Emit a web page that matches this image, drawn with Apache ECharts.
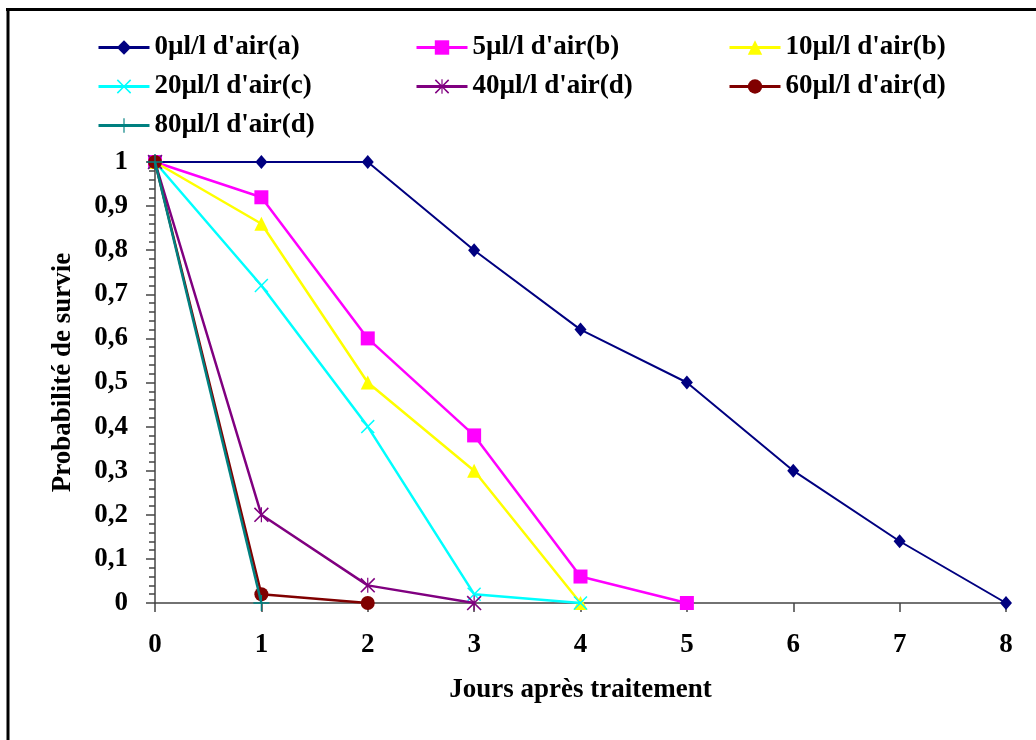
<!DOCTYPE html>
<html>
<head>
<meta charset="utf-8">
<script src="https://cdn.jsdelivr.net/npm/echarts@6/dist/echarts.min.js"></script>
<style>
html,body{margin:0;padding:0;background:#fff;}
#c{width:1036px;height:740px;}
</style>
</head>
<body>
<div id="c"></div>
<script>
// Data
const seriesNames = ["0µl/l d'air(a)", "5µl/l d'air(b)", "10µl/l d'air(b)", "20µl/l d'air(c)", "40µl/l d'air(d)", "60µl/l d'air(d)", "80µl/l d'air(d)"];
const days = [0, 1, 2, 3, 4, 5, 6, 7, 8];
const s0 = [1, 1, 1, 0.8, 0.62, 0.5, 0.3, 0.14, 0];
const s5 = [1, 0.92, 0.6, 0.38, 0.06, 0];
const s10 = [1, 0.86, 0.5, 0.3, 0];
const s20 = [1, 0.72, 0.4, 0.02, 0];
const s40 = [1, 0.2, 0.04, 0];
const s60 = [1, 0.02, 0];
const s80 = [1, 0];
const yTicks = [0, 0.1, 0.2, 0.3, 0.4, 0.5, 0.6, 0.7, 0.8, 0.9, 1];

const colors = ['#000080', '#FF00FF', '#FFFF00', '#00FFFF', '#800080', '#800000', '#008080'];
const X_PATH = 'path://M0,1.5 L1.5,0 L10,8.5 L18.5,0 L20,1.5 L11.5,10 L20,18.5 L18.5,20 L10,11.5 L1.5,20 L0,18.5 L8.5,10 Z';
const STAR_PATH = 'path://M0,1.5 L1.5,0 L10,8.5 L18.5,0 L20,1.5 L11.5,10 L20,18.5 L18.5,20 L10,11.5 L1.5,20 L0,18.5 L8.5,10 Z M9.2,0 L10.8,0 L10.8,20 L9.2,20 Z';
const PLUS_PATH = 'path://M9.2,0 L10.8,0 L10.8,9.2 L20,9.2 L20,10.8 L10.8,10.8 L10.8,20 L9.2,20 L9.2,10.8 L0,10.8 L0,9.2 L9.2,9.2 Z';
const symbols = ['diamond', 'rect', 'triangle', X_PATH, STAR_PATH, 'circle', PLUS_PATH];
const symbolSizes = [[12, 14], 14, 14, 14, 15, 14, 16];
const allValues = [s0, s5, s10, s20, s40, s60, s80];

const FONT = 'Liberation Serif';
const textStyle = {fontFamily: FONT, fontWeight: 'bold', fontSize: 27, color: '#000'};

const series = allValues.map((vals, i) => ({
  name: seriesNames[i],
  type: 'line',
  data: vals.map((v, j) => [days[j], v]),
  symbol: symbols[i],
  symbolSize: symbolSizes[i],
  showAllSymbol: true,
  lineStyle: {color: colors[i], width: i === 0 ? 2 : 2.5},
  itemStyle: {color: colors[i]},
  z: 2 + i,
  animation: false
}));

const legendBase = {
  orient: 'vertical',
  itemWidth: 51,
  itemHeight: 18,
  itemGap: 12,
  lineStyle: {width: 3},
  textStyle: Object.assign({}, textStyle),
  selectedMode: false
};

const chart = echarts.init(document.getElementById('c'), null, {renderer: 'canvas'});
chart.setOption({
  animation: false,
  backgroundColor: '#fff',
  color: colors,
  graphic: [
    {type: 'line', shape: {x1: 6, y1: 9.5, x2: 1040, y2: 9.5}, style: {stroke: '#000', lineWidth: 3}},
    {type: 'line', shape: {x1: 8, y1: 8, x2: 8, y2: 745}, style: {stroke: '#000', lineWidth: 3}}
  ],
  legend: [
    Object.assign({left: 92, top: 29, data: [seriesNames[0], seriesNames[3], seriesNames[6]]}, legendBase),
    Object.assign({left: 410, top: 29, data: [seriesNames[1], seriesNames[4]]}, legendBase),
    Object.assign({left: 723, top: 29, data: [seriesNames[2], seriesNames[5]]}, legendBase)
  ],
  grid: {left: 155, right: 30, top: 162, bottom: 137, containLabel: false},
  xAxis: {
    type: 'value',
    min: days[0],
    max: days[days.length - 1],
    interval: 1,
    name: 'Jours après traitement',
    nameLocation: 'middle',
    nameGap: 74,
    nameTextStyle: Object.assign({}, textStyle),
    axisLine: {onZero: false, lineStyle: {color: '#444', width: 1.5}},
    axisTick: {show: true, inside: false, length: 9, lineStyle: {color: '#444', width: 1.5}},
    axisLabel: Object.assign({margin: 29}, textStyle),
    splitLine: {show: false}
  },
  yAxis: {
    type: 'value',
    min: yTicks[0],
    max: yTicks[yTicks.length - 1],
    interval: 0.1,
    name: 'Probabilité de survie',
    nameLocation: 'middle',
    nameGap: 78,
    nameTextStyle: Object.assign({padding: [0, 0, 0, 20]}, textStyle),
    axisLine: {show: true, lineStyle: {color: '#444', width: 1.5}},
    axisTick: {show: true, inside: false, length: 9, lineStyle: {color: '#444', width: 1.5}},
    minorTick: {show: true, splitNumber: 5, length: 6, lineStyle: {color: '#444', width: 1.5}},
    axisLabel: Object.assign({
      margin: 27,
      formatter: function (v) {
        const r = Math.round(v * 10) / 10;
        return String(r).replace('.', ',');
      }
    }, textStyle),
    splitLine: {show: false}
  },
  series: series
});
</script>
</body>
</html>
